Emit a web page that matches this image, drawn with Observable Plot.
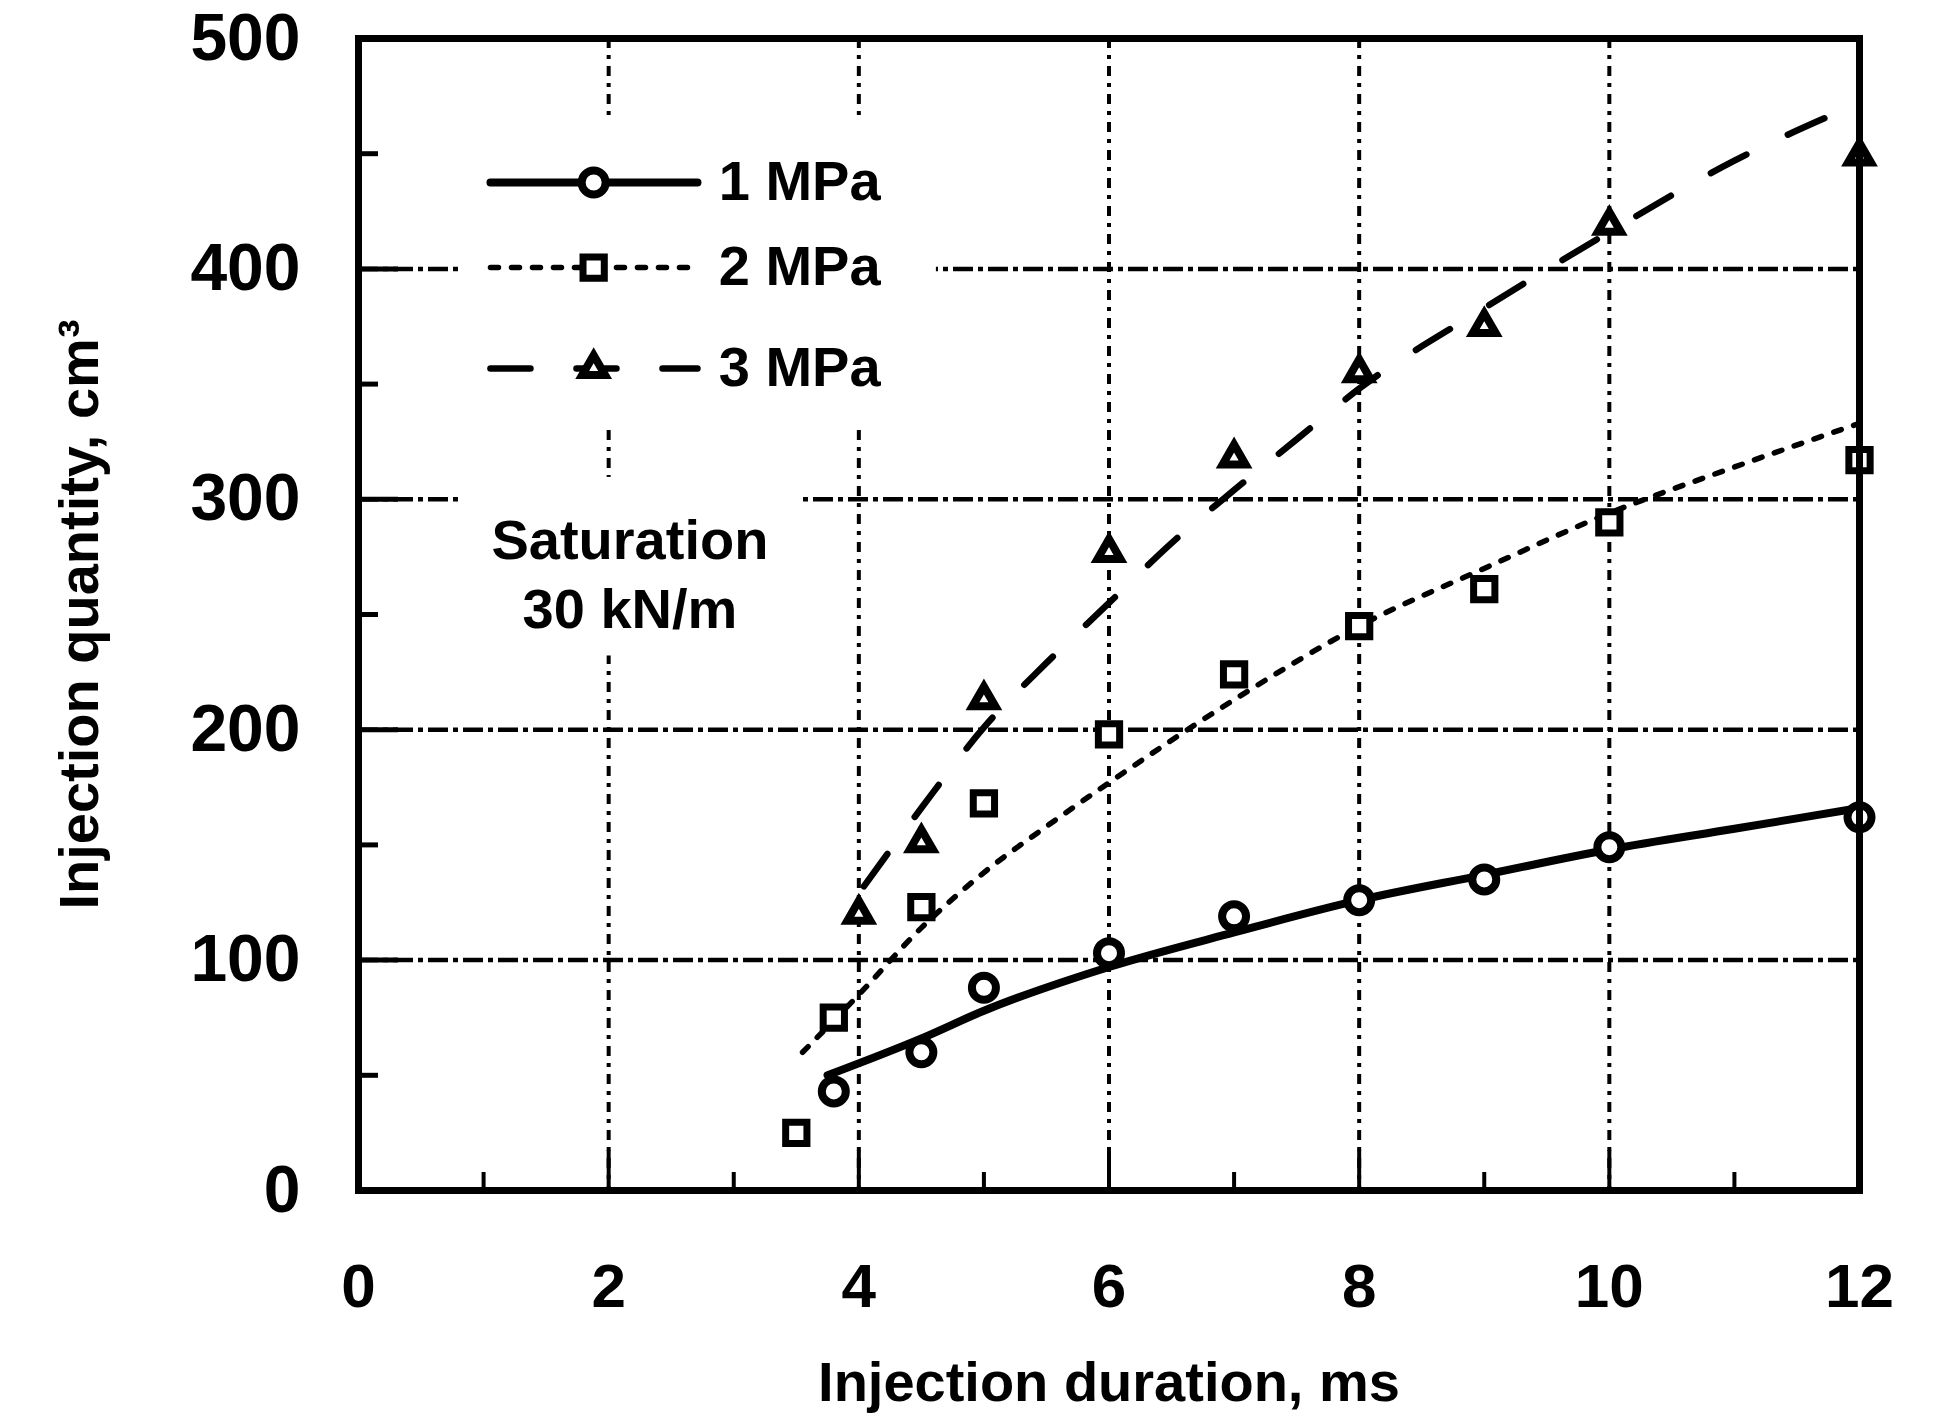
<!DOCTYPE html>
<html>
<head>
<meta charset="utf-8">
<script src="https://cdn.jsdelivr.net/npm/d3@7"></script>
<script src="https://cdn.jsdelivr.net/npm/@observablehq/plot@0.6"></script>
<style>
  html, body { margin: 0; padding: 0; background: #fff; }
  #chart svg { display: block; }
</style>
</head>
<body>
<div id="chart"></div>
<script>
// Injection quantity against injection duration for three supply pressures.
const pressures = ["1 MPa", "2 MPa", "3 MPa"];

// Measured points: duration (ms) and quantity (cm³)
const duration1 = [3.8, 4.5, 5, 6, 7, 8, 9, 10, 12];
const quantity1 = [43, 60, 88, 103, 119, 126, 135, 149, 162];
const duration2 = [3.5, 3.8, 4.5, 5, 6, 7, 8, 9, 10, 12];
const quantity2 = [25, 75, 123, 168, 198, 224, 245, 261, 290, 317];
const duration3 = [4, 4.5, 5, 6, 7, 8, 9, 10, 12];
const quantity3 = [120, 151, 213, 277, 318, 355, 375, 419, 449];

// Fitted curves through each pressure's measurements
const fitDuration1 = [3.75, 4.5, 5, 6, 7, 8, 9, 10, 11, 12];
const fitQuantity1 = [50, 66, 78, 97, 112, 126, 137, 148, 157, 166];
const fitDuration2 = [3.55, 4, 4.5, 5, 5.5, 6, 7, 8, 9, 10, 11, 12];
const fitQuantity2 = [60, 85, 114, 138, 158, 177, 213, 245, 270, 294, 314, 333];
const fitDuration3 = [4.04, 4.5, 5, 5.5, 6, 6.5, 7, 7.5, 8, 9, 10, 11, 12];
const fitQuantity3 = [132, 166, 201, 229, 255, 281, 304, 326, 348, 383, 416, 447, 472];

// Axes
const xTicks = [0, 2, 4, 6, 8, 10, 12];
const xMinorTicks = [1, 3, 5, 7, 9, 11];
const yTicks = [0, 100, 200, 300, 400, 500];
const yMinorTicks = [50, 150, 250, 350, 450];
const xTitle = "Injection duration, ms";
const yTitle = "Injection quantity, cm³";
const note = "Saturation\n30 kN/m";

// ---- assemble series ----
const measured = [duration1, duration2, duration3];
const measuredQ = [quantity1, quantity2, quantity3];
const fitted = [fitDuration1, fitDuration2, fitDuration3];
const fittedQ = [fitQuantity1, fitQuantity2, fitQuantity3];

const series = pressures.map((p, i) => ({
  pressure: p,
  points: measured[i].map((t, j) => ({t, q: measuredQ[i][j]})),
  curve: fitted[i].map((t, j) => ({t, q: fittedQ[i][j]}))
}));

const look = {
  "1 MPa": {symbol: "circle", r: 12, dotWidth: 8, lineWidth: 8, dash: null},
  "2 MPa": {symbol: "square", r: 12, dotWidth: 7, lineWidth: 5.5, dash: "8,13"},
  "3 MPa": {symbol: "triangle", r: 8.5, dotWidth: 8, lineWidth: 6.5, dash: "40,46"}
};

const FONT = "'Liberation Sans', Arial, Helvetica, sans-serif";
const textStyle = {fontFamily: FONT, fontWeight: "bold", fontSize: 56, fill: "black"};

// Legend layout inside the frame (in axis units)
const legendLine = [1.055, 2.71];
const legendMarkX = 1.88;
const legendTextX = 2.88;
const legendRowY = [437.5, 400.6, 356.8];

const marks = [
  // grid
  Plot.gridX([2, 4, 6, 8, 10], {stroke: "black", strokeOpacity: 1, strokeWidth: 4, strokeDasharray: "10,7,4,7"}),
  Plot.gridY([100, 200, 300, 400], {stroke: "black", strokeOpacity: 1, strokeWidth: 4.5, strokeDasharray: "20,5,5,5"}),

  // white panels behind legend and note
  Plot.rect([{x1: 0.8, x2: 4.62, y1: 330, y2: 465}, {x1: 0.8, x2: 3.53, y1: 232, y2: 309.5}],
    {x1: "x1", x2: "x2", y1: "y1", y2: "y2", fill: "white"})
];

// fitted curves and measured points
for (const s of series) {
  const st = look[s.pressure];
  marks.push(Plot.line(s.curve, {
    x: "t", y: "q", curve: "monotone-x", stroke: "black",
    strokeWidth: st.lineWidth, strokeDasharray: st.dash
  }));
}
for (const s of series) {
  const st = look[s.pressure];
  marks.push(Plot.dot(s.points, {
    x: "t", y: "q", symbol: () => st.symbol, r: st.r,
    stroke: "black", fill: "white", strokeWidth: st.dotWidth
  }));
}

// legend
pressures.forEach((p, i) => {
  const st = look[p];
  const y = legendRowY[i];
  marks.push(
    Plot.line(legendLine.map((x) => ({x, y})), {x: "x", y: "y", stroke: "black", strokeWidth: st.lineWidth, strokeDasharray: st.dash}),
    Plot.dot([{x: legendMarkX, y}], {x: "x", y: "y", symbol: () => st.symbol, r: st.r, stroke: "black", fill: "white", strokeWidth: st.dotWidth}),
    Plot.text([p], {x: () => legendTextX, y: () => y, text: (d) => d, textAnchor: "start", lineAnchor: "middle", ...textStyle})
  );
});

marks.push(
  // note
  Plot.text([note], {x: () => 2.17, y: () => 268.8, text: (d) => d, textAnchor: "middle", lineAnchor: "middle", lineHeight: 1.23, ...textStyle}),

  // frame
  Plot.frame({stroke: "black", strokeWidth: 7}),

  // axes: labels and inward ticks
  Plot.axisY(yTicks, {tickSize: 0, tickPadding: 58, tickFormat: "d", fontSize: 66, fontWeight: "bold", fontFamily: FONT, label: null}),
  Plot.axisY(yMinorTicks, {tickSize: -20, strokeWidth: 5, tickFormat: () => "", label: null}),
  Plot.axisY([100, 200, 300, 400], {tickSize: -40, strokeWidth: 5, tickFormat: () => "", label: null}),
  Plot.axisX(xTicks, {tickSize: 0, tickPadding: 72, tickFormat: "d", fontSize: 62, fontWeight: "bold", fontFamily: FONT, label: null}),
  Plot.axisX(xMinorTicks, {tickSize: -18, strokeWidth: 4, tickFormat: () => "", label: null}),
  Plot.axisX([2, 4, 6, 8, 10], {tickSize: -40, strokeWidth: 4, tickFormat: () => "", label: null}),

  // axis titles
  Plot.text([xTitle], {frameAnchor: "bottom", dy: 210, text: (d) => d, lineAnchor: "bottom", textAnchor: "middle", ...textStyle}),
  Plot.text([yTitle], {frameAnchor: "left", dx: -300, rotate: -90, text: (d) => d, lineAnchor: "top", textAnchor: "middle", ...textStyle})
);

const chart = Plot.plot({
  width: 1944,
  height: 1419,
  marginLeft: 358,
  marginRight: 85,
  marginTop: 38,
  marginBottom: 229,
  style: {background: "white", color: "black", fontFamily: FONT},
  x: {domain: [0, 12]},
  y: {domain: [0, 500]},
  marks
});

document.getElementById("chart").appendChild(chart);
</script>
</body>
</html>
